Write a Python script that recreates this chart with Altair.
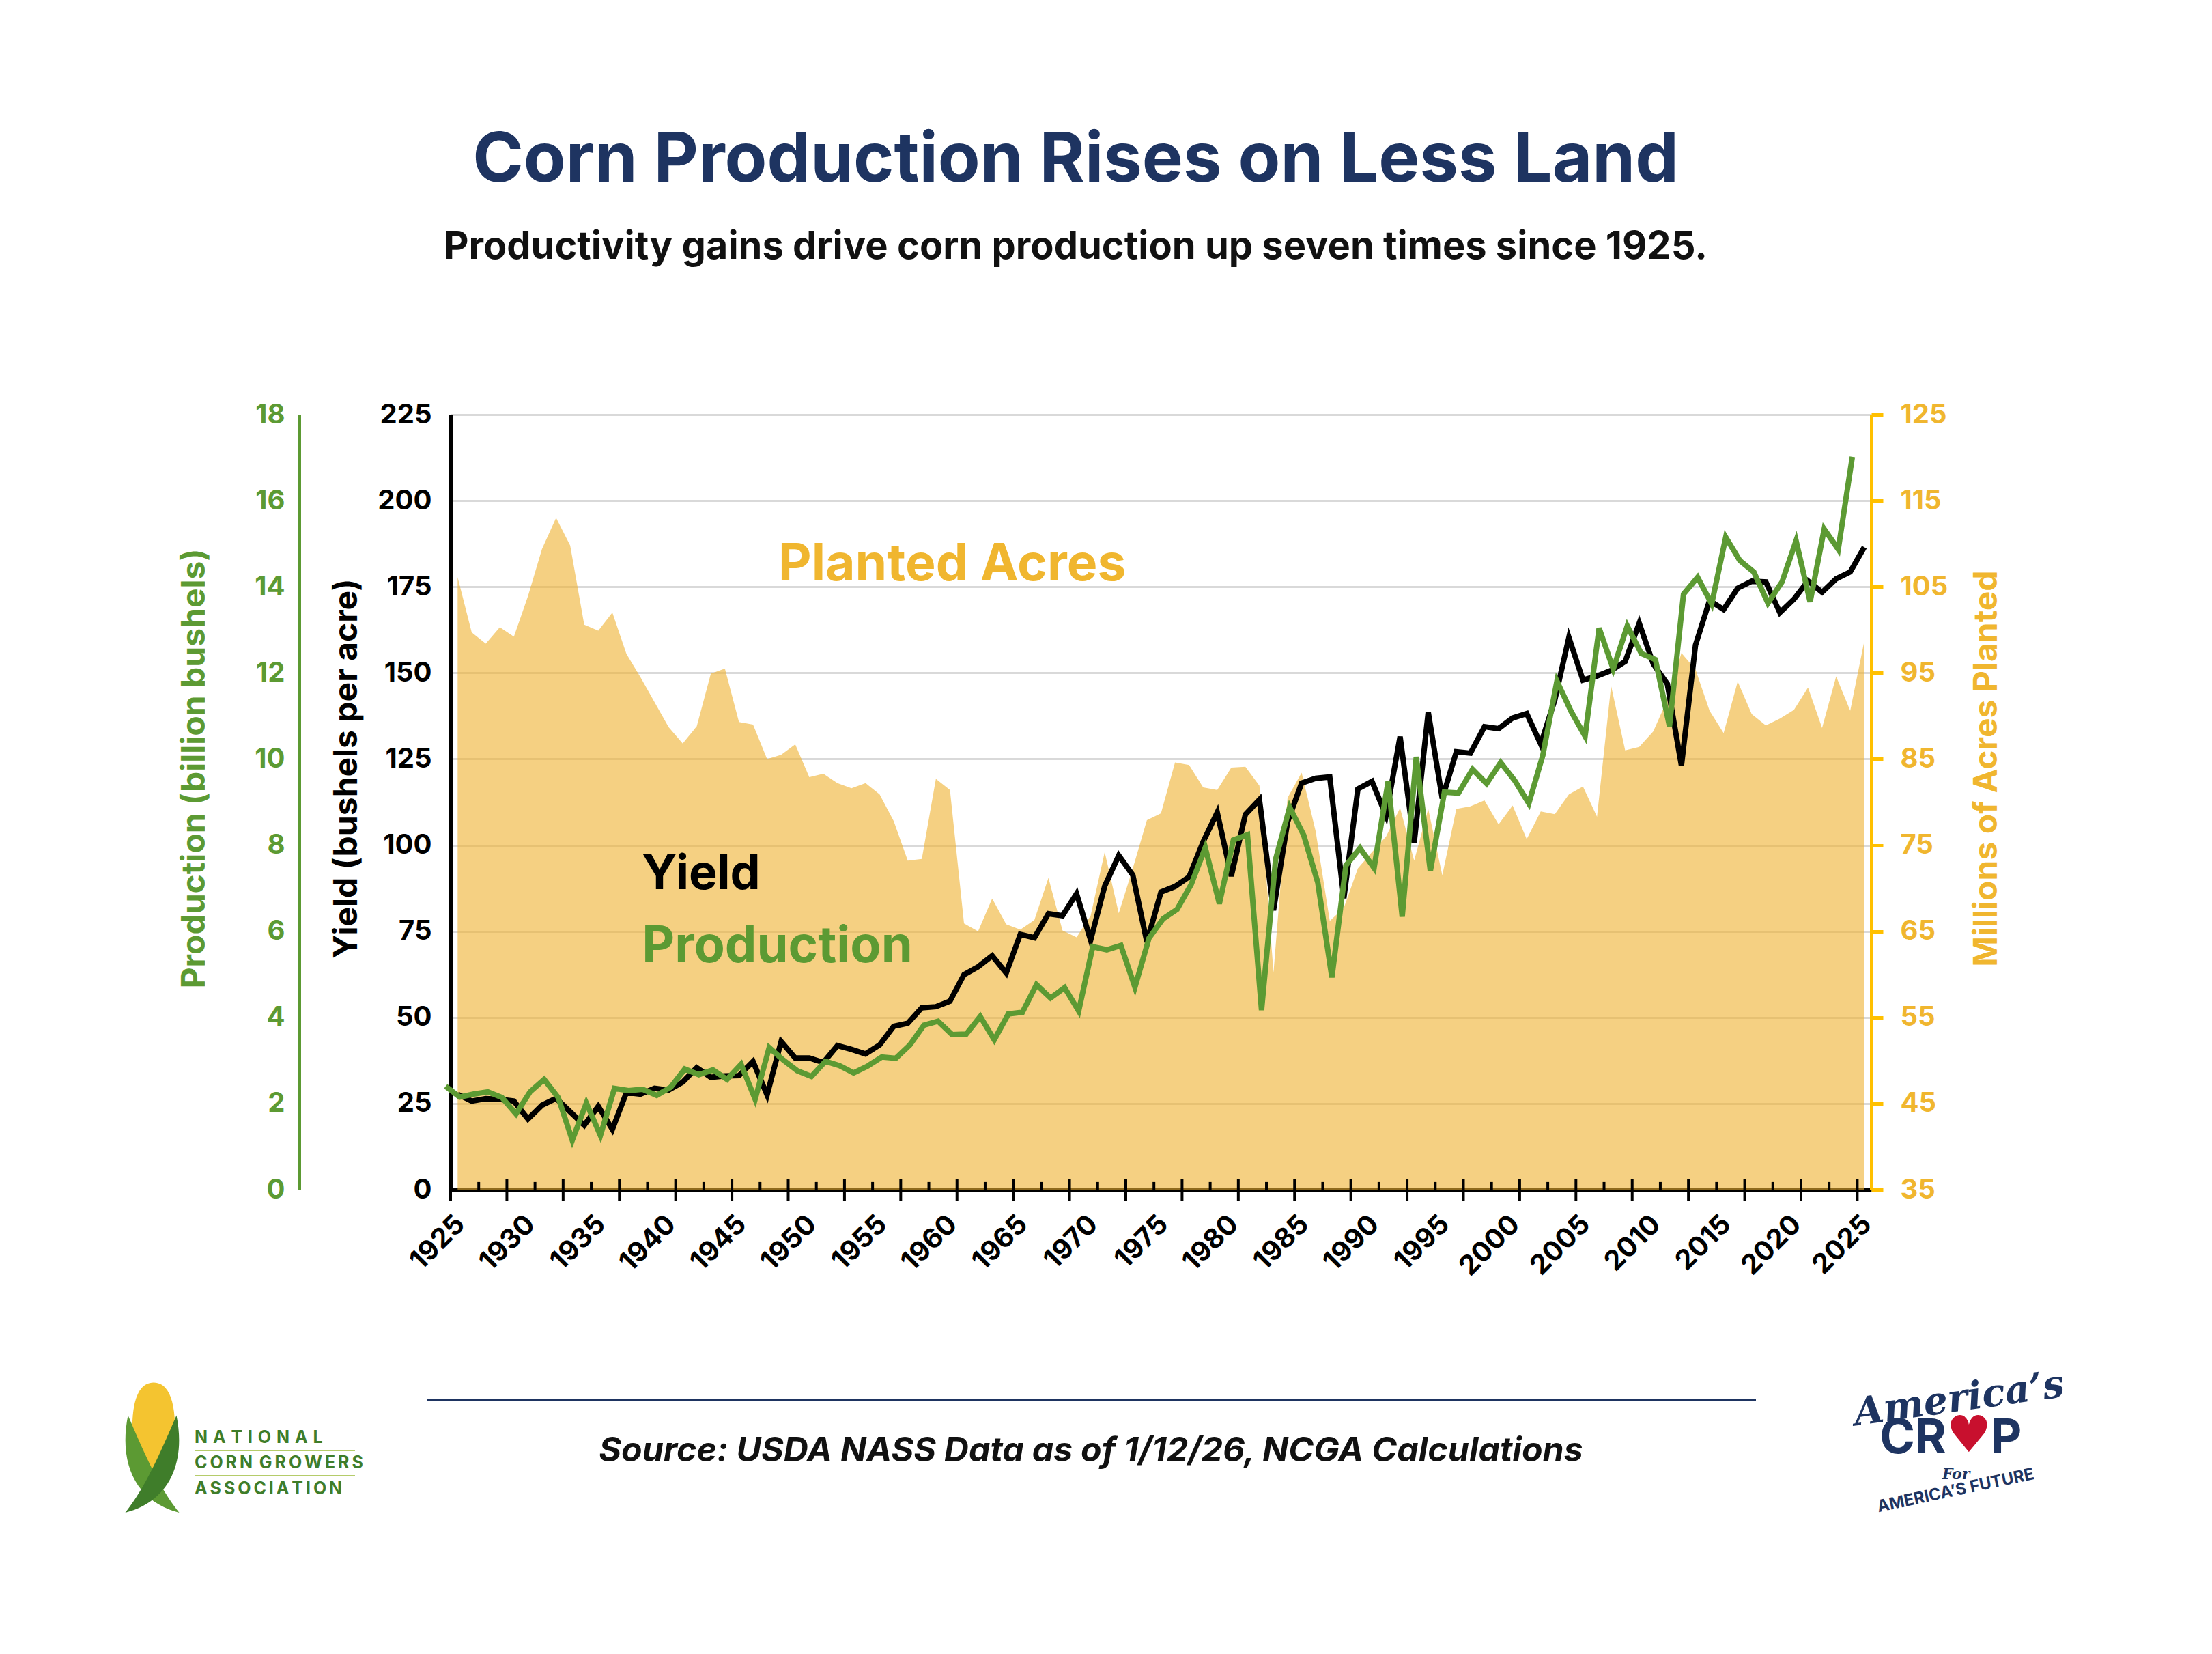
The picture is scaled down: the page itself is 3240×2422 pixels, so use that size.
import altair as alt
import pandas as pd

# ---------------- data ----------------
years = list(range(1925, 2026))

acres = [106.1, 99.7, 98.4, 100.3, 99.2, 103.9, 109.4, 113.0, 109.8, 100.6,
         99.9, 102.0, 97.2, 94.5, 91.6, 88.7, 86.8, 88.8, 94.9, 95.5,
         89.3, 89.0, 85.0, 85.5, 86.7, 82.9, 83.3, 82.2, 81.6, 82.2,
         80.9, 77.8, 73.2, 73.4, 82.7, 81.4, 65.9, 65.0, 68.8, 65.8,
         65.2, 66.3, 71.2, 65.1, 64.3, 66.8, 74.2, 67.1, 72.3, 77.9,
         78.7, 84.6, 84.3, 81.7, 81.4, 84.0, 84.1, 81.9, 60.2, 80.5,
         83.4, 76.6, 66.2, 67.7, 72.3, 74.2, 76.0, 79.3, 73.2, 79.2,
         71.5, 79.2, 79.5, 80.2, 77.4, 79.6, 75.7, 78.9, 78.6, 80.9,
         81.8, 78.3, 93.5, 86.0, 86.4, 88.2, 91.9, 97.3, 95.4, 90.6,
         88.0, 94.0, 90.2, 88.9, 89.7, 90.7, 93.3, 88.6, 94.6, 90.6,
         98.7]

yield_bu = [27.7, 25.7, 26.4, 26.2, 25.7, 20.5, 24.5, 26.5, 22.6, 18.7,
            24.2, 17.5, 28.2, 27.7, 29.4, 28.9, 31.2, 35.4, 32.6, 33.0,
            33.1, 37.2, 27.5, 43.0, 38.2, 38.2, 36.9, 41.8, 40.7, 39.4,
            42.0, 47.4, 48.3, 52.8, 53.1, 54.7, 62.4, 64.7, 67.9, 62.9,
            74.1, 73.1, 80.1, 79.5, 85.9, 72.4, 88.1, 97.0, 91.3, 71.9,
            86.4, 88.0, 90.8, 101.0, 109.5, 91.0, 108.9, 113.2, 81.1, 106.7,
            118.0, 119.4, 119.8, 84.6, 116.3, 118.5, 108.6, 131.5, 100.7, 138.6,
            113.5, 127.1, 126.7, 134.4, 133.8, 136.9, 138.2, 129.3, 142.2, 160.3,
            147.9, 149.1, 150.7, 153.3, 164.4, 152.6, 146.8, 123.1, 158.1, 171.0,
            168.4, 174.6, 176.6, 176.4, 167.5, 171.4, 176.7, 173.4, 177.3, 179.3,
            186.5]

production = [2.40, 2.15, 2.22, 2.27, 2.14, 1.76, 2.27, 2.56, 2.14, 1.15,
              2.01, 1.26, 2.35, 2.30, 2.33, 2.19, 2.38, 2.80, 2.67, 2.78,
              2.56, 2.91, 2.10, 3.30, 3.01, 2.76, 2.63, 2.98, 2.88, 2.71,
              2.87, 3.08, 3.05, 3.36, 3.82, 3.91, 3.60, 3.61, 4.02, 3.48,
              4.08, 4.12, 4.76, 4.45, 4.69, 4.15, 5.64, 5.57, 5.67, 4.70,
              5.84, 6.29, 6.51, 7.09, 7.94, 6.64, 8.12, 8.24, 4.17, 7.67,
              8.88, 8.23, 7.13, 4.93, 7.53, 7.93, 7.47, 9.48, 6.34, 10.05,
              7.40, 9.23, 9.21, 9.76, 9.43, 9.92, 9.50, 8.97, 10.09, 11.81,
              11.11, 10.53, 13.04, 12.09, 13.09, 12.45, 12.31, 10.76, 13.83, 14.22,
              13.60, 15.15, 14.61, 14.34, 13.62, 14.11, 15.07, 13.65, 15.34, 14.87,
              17.02]

label_years = list(range(1925, 2026, 5))
major_ticks = list(range(1925, 2026, 4))
minor_ticks = list(range(1927, 2026, 4))
yield_ticks = list(range(0, 226, 25))
prod_ticks = list(range(0, 19, 2))
acre_ticks = list(range(35, 126, 10))

df = pd.DataFrame({"year": years, "acres": acres, "yield": yield_bu,
                   "production": production})
dummy = pd.DataFrame({"k": [0]})

# ---------------- styles ----------------
FONT = "Inter"
GREEN = "#5C9A33"
GOLD = "#F0B62F"
GOLD_AXIS = "#FFC000"
NAVY = "#1E3461"

W, H = 2081, 1135

xscale = alt.Scale(domain=[1925, 2026], nice=False, zero=False)
xaxis = alt.Axis(orient="bottom", values=label_years, format="d", ticks=False,
                 grid=False, domainColor="#000000", domainWidth=5,
                 labelAngle=315, labelAlign="right", labelBaseline="top",
                 labelPadding=30, labelFont=FONT, labelFontSize=40,
                 labelFontWeight="bold", labelColor="#000000",
                 labelOverlap=False, labelFlush=False, title="")

yscale = alt.Scale(domain=[0, 225], nice=False, zero=False)
yaxis = alt.Axis(orient="left", values=yield_ticks, format="d", grid=True,
                 gridColor="#D9D9D9", gridWidth=3, ticks=False,
                 domainColor="#000000", domainWidth=6, labelPadding=28,
                 labelFont=FONT, labelFontSize=40, labelFontWeight="bold",
                 labelColor="#000000", labelOverlap=False, labelFlush=False,
                 title="Yield (bushels per acre)", titleFont=FONT,
                 titleFontSize=48, titleFontWeight="bold", titleColor="#000000",
                 titleAngle=270, titleX=-152, titleY=518,
                 titleAlign="center", titleBaseline="middle")

pscale = alt.Scale(domain=[0, 18], nice=False, zero=False)
paxis = alt.Axis(orient="left", offset=222, values=prod_ticks, format="d",
                 grid=False, ticks=False, domainColor=GREEN, domainWidth=5,
                 labelPadding=21, labelFont=FONT, labelFontSize=40,
                 labelFontWeight="bold", labelColor=GREEN, labelOverlap=False,
                 labelFlush=False, title="Production (billion bushels)",
                 titleFont=FONT, titleFontSize=48, titleFontWeight="bold",
                 titleColor=GREEN, titleAngle=270, titleX=-153, titleY=518,
                 titleAlign="center", titleBaseline="middle")

ascale = alt.Scale(domain=[35, 125], nice=False, zero=False)
aaxis = alt.Axis(orient="right", values=acre_ticks, format="d", grid=False,
                 domainColor=GOLD_AXIS, domainWidth=5, tickColor=GOLD_AXIS,
                 tickWidth=5, tickSize=17, labelPadding=25, labelFont=FONT,
                 labelFontSize=40, labelFontWeight="bold", labelColor=GOLD,
                 labelOverlap=False, labelFlush=False,
                 title="Millions of Acres Planted", titleFont=FONT,
                 titleFontSize=48, titleFontWeight="bold", titleColor=GOLD,
                 titleAngle=270, titleX=169, titleY=518, titleAlign="center",
                 titleBaseline="middle")


def X(field):
    return alt.X(field, scale=xscale, axis=xaxis)


# ---------------- planted acres area ----------------
area = alt.Chart(df).transform_calculate(xa="datum.year + 0.5").mark_area(
    color="#EEB12F", opacity=0.6
).encode(
    x=X("xa:Q"),
    y=alt.Y("acres:Q", scale=ascale, axis=aaxis),
    y2=alt.Y2Datum(35),
)

# ---------------- yield line + x ticks + labels ----------------
yline = alt.Chart(df).transform_calculate(xa="datum.year + 0.5").mark_line(
    color="#000000", strokeWidth=8
).encode(
    x=X("xa:Q"),
    y=alt.Y("yield:Q", scale=yscale, axis=yaxis),
)

tick_major = alt.Chart(pd.DataFrame({"t": major_ticks})).mark_rule(
    color="#000000", strokeWidth=4
).encode(
    x=X("t:Q"),
    y=alt.YDatum(-3.2, scale=yscale, axis=yaxis),
    y2=alt.Y2Datum(3.0),
)

tick_minor = alt.Chart(pd.DataFrame({"t": minor_ticks})).mark_rule(
    color="#000000", strokeWidth=4
).encode(
    x=X("t:Q"),
    y=alt.YDatum(0, scale=yscale, axis=yaxis),
    y2=alt.Y2Datum(2.2),
)


def ann(text, xv, yv, color, size):
    return alt.Chart(dummy).mark_text(
        text=text, font=FONT, fontSize=size, fontWeight="bold", color=color,
        align="left", baseline="alphabetic"
    ).encode(
        x=alt.XDatum(xv, scale=xscale, axis=xaxis),
        y=alt.YDatum(yv, scale=yscale, axis=yaxis),
    )


lab_acres = ann("Planted Acres", 1948.3, 176.8, GOLD, 75)
lab_yield = ann("Yield", 1938.6, 87.2, "#000000", 70)
lab_prod = ann("Production", 1938.6, 66.0, GREEN, 74)

yield_layer = alt.layer(tick_minor, tick_major, yline, lab_acres, lab_yield,
                        lab_prod)

# ---------------- production line ----------------
pline = alt.Chart(df).transform_calculate(xp="datum.year - 0.35").mark_line(
    color=GREEN, strokeWidth=8
).encode(
    x=X("xp:Q"),
    y=alt.Y("production:Q", scale=pscale, axis=paxis),
)


# ---------------- footer (source, logos) ----------------
def ftext(text, xv, yv, **kw):
    return alt.Chart(dummy).mark_text(text=text, **kw).encode(
        x=alt.value(xv), y=alt.value(yv))


def shape(path, xv, yv, size, color):
    return alt.Chart(dummy).mark_point(
        shape=path, filled=True, color=color, opacity=1, size=size,
        strokeWidth=0
    ).encode(x=alt.value(xv), y=alt.value(yv))


footer_rule = alt.Chart(dummy).mark_rule(color=NAVY, strokeWidth=3).encode(
    x=alt.value(-34), x2=alt.value(1912), y=alt.value(1443))

source = ftext("Source: USDA NASS Data as of 1/12/26, NCGA Calculations",
               938, 1533, font=FONT, fontSize=50, fontWeight="bold",
               fontStyle="italic", color="#111111", align="center",
               baseline="alphabetic")

cob_path = ("M0,-1 C0.4,-1 0.5,-0.4 0.45,0.3 C0.4,0.8 0.2,1 0,1 "
            "C-0.2,1 -0.4,0.8 -0.45,0.3 C-0.5,-0.4 -0.4,-1 0,-1 Z")
leaf_l = "M0.3,1 C-0.5,0.8 -0.9,0.1 -0.7,-0.9 C-0.4,-0.2 -0.1,0.5 0.3,1 Z"
leaf_r = "M-0.3,1 C0.5,0.8 0.9,0.1 0.7,-0.9 C0.4,-0.2 0.1,0.5 -0.3,1 Z"

cob = shape(cob_path, -435, 1485, 135 * 135, "#F4C430")
leafl = shape(leaf_l, -420, 1533, 150 * 150, GREEN)
leafr = shape(leaf_r, -454, 1533, 150 * 150, "#3F7D2A")

ncga_kw = dict(font=FONT, fontSize=25, fontWeight="bold", color="#3F7D2A",
               align="left", baseline="alphabetic")
ncga1 = ftext("N\u2009\u2009A\u2009\u2009T\u2009\u2009I\u2009\u2009O\u2009\u2009N\u2009\u2009A\u2009\u2009L",
              -375, 1506, **ncga_kw)
ncga2 = ftext("C\u2009O\u2009R\u2009N\u2009 G\u2009R\u2009O\u2009W\u2009E\u2009R\u2009S",
              -375, 1543, **ncga_kw)
ncga3 = ftext("A\u2009S\u2009S\u2009O\u2009C\u2009I\u2009A\u2009T\u2009I\u2009O\u2009N",
              -375, 1581, **ncga_kw)
ncga_r1 = alt.Chart(dummy).mark_rule(color="#B5CC6A", strokeWidth=2).encode(
    x=alt.value(-375), x2=alt.value(-140), y=alt.value(1517))
ncga_r2 = alt.Chart(dummy).mark_rule(color="#B5CC6A", strokeWidth=2).encode(
    x=alt.value(-375), x2=alt.value(-140), y=alt.value(1554))

crop1 = ftext("America\u2019s", 2212, 1459, font="DejaVu Serif", fontSize=56,
              fontWeight="bold", fontStyle="italic", color=NAVY,
              align="center", baseline="alphabetic", angle=352)
crop2 = ftext("CR", 2191, 1521, font=FONT, fontSize=70, fontWeight="bold",
              color=NAVY, align="right", baseline="alphabetic")
crop3 = ftext("\u2665", 2224, 1519, font="DejaVu Sans", fontSize=74,
              color="#C8102E", align="center", baseline="alphabetic")
crop4 = ftext("P", 2256, 1521, font=FONT, fontSize=70, fontWeight="bold",
              color=NAVY, align="left", baseline="alphabetic")
crop5 = ftext("For", 2205, 1552, font="DejaVu Serif", fontSize=22,
              fontWeight="bold", fontStyle="italic", color=NAVY,
              align="center", baseline="middle")
crop6 = ftext("AMERICA\u2019S FUTURE", 2206, 1583, font=FONT, fontSize=24,
              fontWeight="bold", color=NAVY, align="center",
              baseline="alphabetic", angle=348)

chart = alt.layer(
    area, yield_layer, pline,
    footer_rule, source, cob, leafl, leafr, ncga1, ncga2, ncga3, ncga_r1,
    ncga_r2, crop1, crop2, crop3, crop4, crop5, crop6,
).resolve_scale(y="independent").properties(
    width=W, height=H,
    autosize=alt.AutoSizeParams(type="none"),
    padding={"left": 652, "top": 599, "right": 491, "bottom": 650},
    background="#FFFFFF",
    title=alt.TitleParams(
        text="Corn Production Rises on Less Land",
        subtitle="Productivity gains drive corn production up seven times since 1925.",
        anchor="middle", frame="group", dx=-125, offset=196,
        font=FONT, fontSize=101, fontWeight="bold", color=NAVY,
        subtitleFont=FONT, subtitleFontSize=56, subtitleFontWeight="bold",
        subtitleColor="#111111", subtitlePadding=48,
    ),
).configure_view(stroke="transparent")

chart.save("out.html", embed_options={"renderer": "svg", "actions": False})
